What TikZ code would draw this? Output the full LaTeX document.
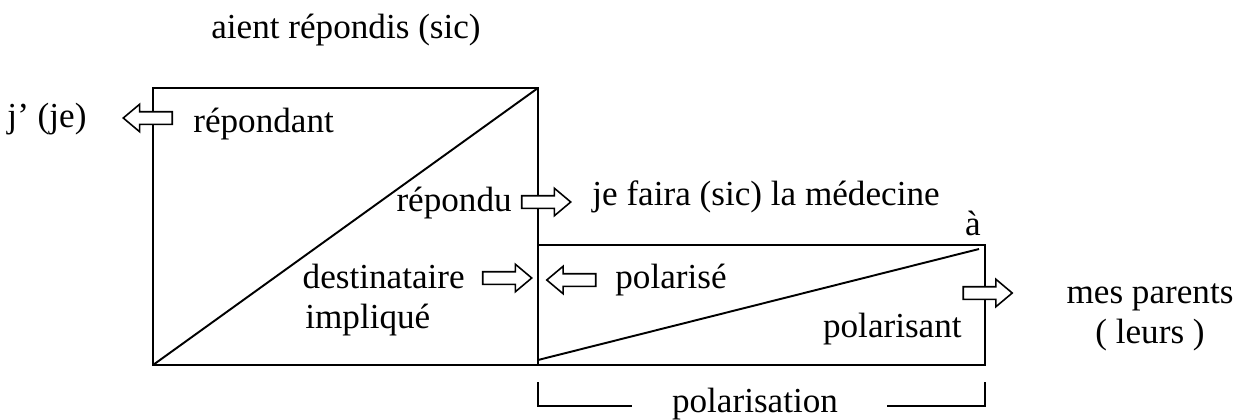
\documentclass[tikz,border=0pt]{standalone}
\usepackage{fontspec}
\setmainfont{Liberation Serif}
\usetikzlibrary{shapes.arrows, positioning}
\tikzset{
  lbl/.style={inner sep=0pt, font=\fontsize{20}{24}\selectfont},
  blockarrow/.style={
    single arrow,
    draw=black,
    fill=white,
    line width=0.9pt,
    inner sep=0.11cm,
    minimum height=0.98cm,
    minimum width=0.52cm,
    single arrow head extend=0.15cm,
    single arrow tip angle=80
  },
  rarrow/.style={blockarrow},
  larrow/.style={blockarrow, shape border rotate=180},
  frame/.style={line width=1.1pt, draw=black}
}

\begin{document}
\begin{tikzpicture}[x=0.02cm, y=-0.02cm]
  \useasboundingbox (0,0) rectangle (1246,419);

  % square and strip
  \draw[frame] (153,88) rectangle (538,365);
  \draw[frame] (538,245) rectangle (985,365);
  \coordinate (sqbl) at (153,365);
  \coordinate (sqtr) at (538,88);
  \coordinate (stbl) at (538,360);
  \coordinate (sttr) at (979,249);
  \draw[frame] (sqbl) -- (sqtr);
  \draw[frame] (stbl) -- (sttr);

  \node[lbl, anchor=base] (aient) at (346,38) {aient répondis (sic)};
  \node[lbl, anchor=base] (je) at (47,127) {j’ (je)};
  \node[lbl, anchor=base west] (repondant) at (193,132) {répondant};
  \node[lbl, anchor=base east] (repondu) at (512,211) {répondu};
  \node[lbl, anchor=base west] (medecine) at (592,205) {je faira (sic) la médecine};
  \node[lbl, anchor=base] (a) at (973,235) {à};
  \node[lbl, anchor=base east] (destinataire) at (465,288) {destinataire};
  \node[lbl, anchor=base west] (implique) at (305,328) {impliqué};
  \node[lbl, anchor=base west] (polarise) at (615,288) {polarisé};
  \node[lbl, anchor=base east] (polarisant) at (962,337) {polarisant};
  \node[lbl, anchor=base] (parents) at (1150,303) {mes parents};
  \node[lbl, anchor=base] (leurs) at (1150,343) {( leurs )};
  \node[lbl, anchor=base] (polarisation) at (755,412) {polarisation};

  \node[larrow] (arrrepondant) at (151.5,118) {};
  \node[rarrow] (arrrepondu) at (542.5,202) {};
  \node[rarrow] (arrdest) at (503.5,278) {};
  \node[larrow] (arrpolarise) at (575,280) {};
  \node[rarrow] (arrpolarisant) at (984,293) {};

  % bracket
  \coordinate (brl) at (538,382);
  \coordinate (brr) at (985,382);
  \draw[frame] (brl) -- (538,406) -- (632,406);
  \draw[frame] (887,406) -- (985,406) -- (brr);
\end{tikzpicture}
\end{document}
